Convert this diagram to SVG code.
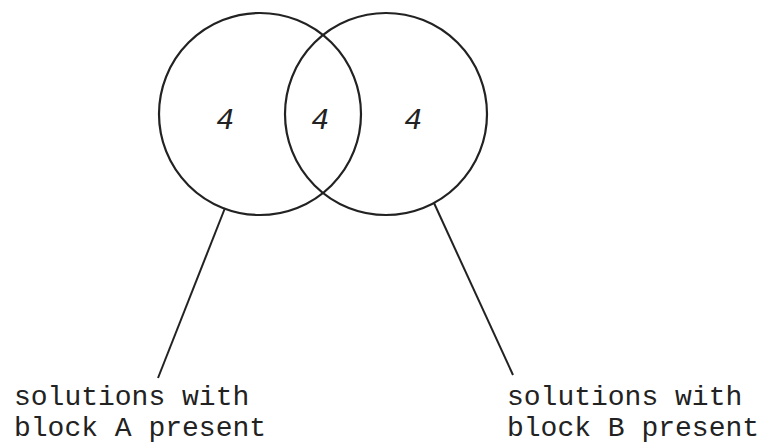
<svg xmlns="http://www.w3.org/2000/svg" width="764" height="443" viewBox="0 0 764 443">
<style>
.c{fill:none;stroke:#222;stroke-width:2.2}
.l{stroke:#222;stroke-width:2;fill:none}
.n{font-family:"Liberation Sans",sans-serif;font-size:30px;fill:#222;text-anchor:middle;font-style:italic}
.t{font-family:"Liberation Mono",monospace;font-size:28px;fill:#222}
</style>
<rect width="764" height="443" fill="#fff"/>
<g id="setA"><circle class="c" cx="260" cy="114" r="101"/><text class="n" x="225" y="129">4</text></g>
<g id="setB"><circle class="c" cx="386" cy="114" r="101"/><text class="n" x="413" y="129">4</text></g>
<g id="both"><text class="n" x="320" y="129">4</text></g>
<g id="connectors">
<line class="l" x1="225" y1="208" x2="158" y2="378"/>
<line class="l" x1="434" y1="203" x2="513" y2="375"/>
</g>
<g id="labelA"><text class="t" x="14" y="405">solutions with</text><text class="t" x="14" y="436">block A present</text></g>
<g id="labelB"><text class="t" x="507" y="405">solutions with</text><text class="t" x="507" y="436">block B present</text></g>
</svg>
